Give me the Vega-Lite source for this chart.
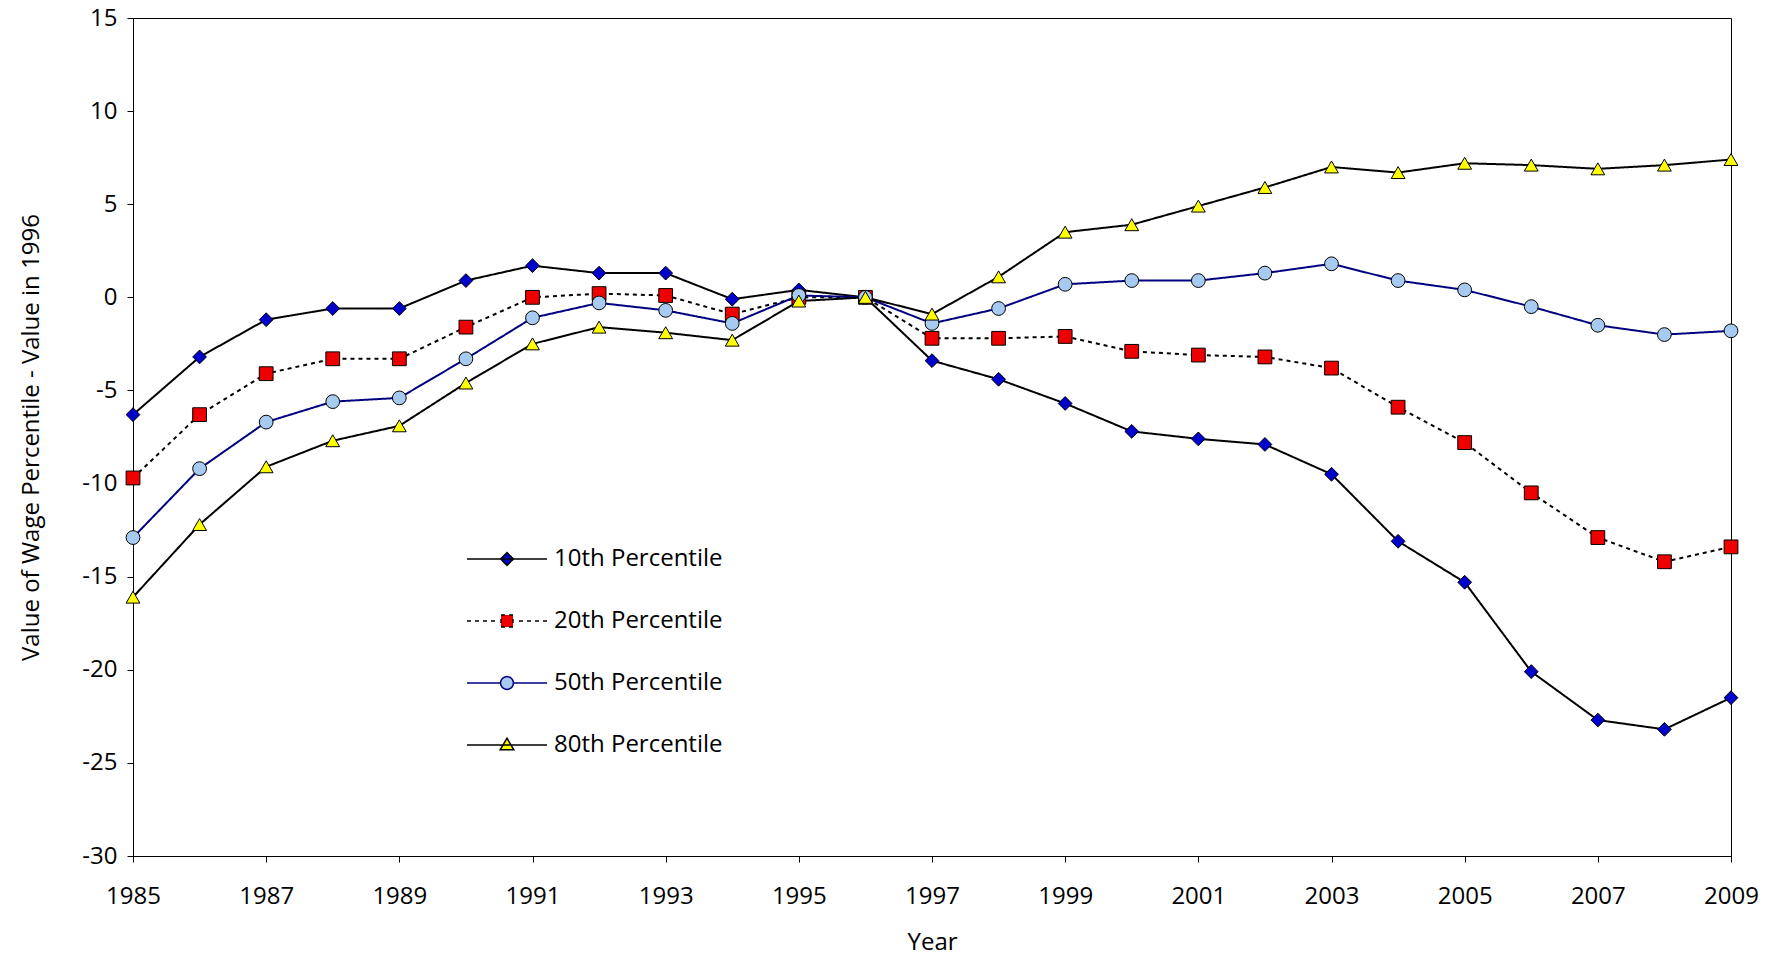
{
  "$schema": "https://vega.github.io/schema/vega-lite/v6.json",
  "width": 1598,
  "height": 838,
  "autosize": {"type": "none"},
  "padding": {"left": 133, "top": 18, "right": 49, "bottom": 111},
  "background": "white",
  "config": {
    "font": "Open Sans",
    "view": {"stroke": "black", "strokeWidth": 1},
    "axis": {"labelFont": "Open Sans", "titleFont": "Open Sans", "labelFontSize": 24, "titleFontSize": 24, "titleFontWeight": "normal", "labelColor": "black", "titleColor": "black", "domainColor": "black", "tickColor": "black", "grid": false, "labelFlush": false, "labelOverlap": false},
    "legend": {
      "orient": "none", "legendX": 353, "legendY": 520, "title": null,
      "labelFontSize": 24, "labelColor": "black", "labelFont": "Open Sans", "labelLimit": 0,
      "symbolSize": 1600, "symbolStrokeWidth": 1.5, "rowPadding": 29, "labelOffset": 26
    },
    "point": {"filled": true, "stroke": "black", "strokeWidth": 1, "opacity": 1, "size": 190}
  },
  "data": {
    "values": [
      {"year":1985,"p":"10th Percentile","v":-6.3},{"year":1986,"p":"10th Percentile","v":-3.2},{"year":1987,"p":"10th Percentile","v":-1.2},{"year":1988,"p":"10th Percentile","v":-0.6},{"year":1989,"p":"10th Percentile","v":-0.6},{"year":1990,"p":"10th Percentile","v":0.9},{"year":1991,"p":"10th Percentile","v":1.7},{"year":1992,"p":"10th Percentile","v":1.3},{"year":1993,"p":"10th Percentile","v":1.3},{"year":1994,"p":"10th Percentile","v":-0.1},{"year":1995,"p":"10th Percentile","v":0.4},{"year":1996,"p":"10th Percentile","v":0},{"year":1997,"p":"10th Percentile","v":-3.4},{"year":1998,"p":"10th Percentile","v":-4.4},{"year":1999,"p":"10th Percentile","v":-5.7},{"year":2000,"p":"10th Percentile","v":-7.2},{"year":2001,"p":"10th Percentile","v":-7.6},{"year":2002,"p":"10th Percentile","v":-7.9},{"year":2003,"p":"10th Percentile","v":-9.5},{"year":2004,"p":"10th Percentile","v":-13.1},{"year":2005,"p":"10th Percentile","v":-15.3},{"year":2006,"p":"10th Percentile","v":-20.1},{"year":2007,"p":"10th Percentile","v":-22.7},{"year":2008,"p":"10th Percentile","v":-23.2},{"year":2009,"p":"10th Percentile","v":-21.5},
      {"year":1985,"p":"20th Percentile","v":-9.7},{"year":1986,"p":"20th Percentile","v":-6.3},{"year":1987,"p":"20th Percentile","v":-4.1},{"year":1988,"p":"20th Percentile","v":-3.3},{"year":1989,"p":"20th Percentile","v":-3.3},{"year":1990,"p":"20th Percentile","v":-1.6},{"year":1991,"p":"20th Percentile","v":0},{"year":1992,"p":"20th Percentile","v":0.2},{"year":1993,"p":"20th Percentile","v":0.1},{"year":1994,"p":"20th Percentile","v":-0.9},{"year":1995,"p":"20th Percentile","v":0},{"year":1996,"p":"20th Percentile","v":0},{"year":1997,"p":"20th Percentile","v":-2.2},{"year":1998,"p":"20th Percentile","v":-2.2},{"year":1999,"p":"20th Percentile","v":-2.1},{"year":2000,"p":"20th Percentile","v":-2.9},{"year":2001,"p":"20th Percentile","v":-3.1},{"year":2002,"p":"20th Percentile","v":-3.2},{"year":2003,"p":"20th Percentile","v":-3.8},{"year":2004,"p":"20th Percentile","v":-5.9},{"year":2005,"p":"20th Percentile","v":-7.8},{"year":2006,"p":"20th Percentile","v":-10.5},{"year":2007,"p":"20th Percentile","v":-12.9},{"year":2008,"p":"20th Percentile","v":-14.2},{"year":2009,"p":"20th Percentile","v":-13.4},
      {"year":1985,"p":"50th Percentile","v":-12.9},{"year":1986,"p":"50th Percentile","v":-9.2},{"year":1987,"p":"50th Percentile","v":-6.7},{"year":1988,"p":"50th Percentile","v":-5.6},{"year":1989,"p":"50th Percentile","v":-5.4},{"year":1990,"p":"50th Percentile","v":-3.3},{"year":1991,"p":"50th Percentile","v":-1.1},{"year":1992,"p":"50th Percentile","v":-0.3},{"year":1993,"p":"50th Percentile","v":-0.7},{"year":1994,"p":"50th Percentile","v":-1.4},{"year":1995,"p":"50th Percentile","v":0.1},{"year":1996,"p":"50th Percentile","v":0},{"year":1997,"p":"50th Percentile","v":-1.4},{"year":1998,"p":"50th Percentile","v":-0.6},{"year":1999,"p":"50th Percentile","v":0.7},{"year":2000,"p":"50th Percentile","v":0.9},{"year":2001,"p":"50th Percentile","v":0.9},{"year":2002,"p":"50th Percentile","v":1.3},{"year":2003,"p":"50th Percentile","v":1.8},{"year":2004,"p":"50th Percentile","v":0.9},{"year":2005,"p":"50th Percentile","v":0.4},{"year":2006,"p":"50th Percentile","v":-0.5},{"year":2007,"p":"50th Percentile","v":-1.5},{"year":2008,"p":"50th Percentile","v":-2.0},{"year":2009,"p":"50th Percentile","v":-1.8},
      {"year":1985,"p":"80th Percentile","v":-16.1},{"year":1986,"p":"80th Percentile","v":-12.2},{"year":1987,"p":"80th Percentile","v":-9.1},{"year":1988,"p":"80th Percentile","v":-7.7},{"year":1989,"p":"80th Percentile","v":-6.9},{"year":1990,"p":"80th Percentile","v":-4.6},{"year":1991,"p":"80th Percentile","v":-2.5},{"year":1992,"p":"80th Percentile","v":-1.6},{"year":1993,"p":"80th Percentile","v":-1.9},{"year":1994,"p":"80th Percentile","v":-2.3},{"year":1995,"p":"80th Percentile","v":-0.2},{"year":1996,"p":"80th Percentile","v":0},{"year":1997,"p":"80th Percentile","v":-0.9},{"year":1998,"p":"80th Percentile","v":1.1},{"year":1999,"p":"80th Percentile","v":3.5},{"year":2000,"p":"80th Percentile","v":3.9},{"year":2001,"p":"80th Percentile","v":4.9},{"year":2002,"p":"80th Percentile","v":5.9},{"year":2003,"p":"80th Percentile","v":7.0},{"year":2004,"p":"80th Percentile","v":6.7},{"year":2005,"p":"80th Percentile","v":7.2},{"year":2006,"p":"80th Percentile","v":7.1},{"year":2007,"p":"80th Percentile","v":6.9},{"year":2008,"p":"80th Percentile","v":7.1},{"year":2009,"p":"80th Percentile","v":7.4}
    ]
  },
  "encoding": {
    "x": {"field": "year", "type": "quantitative", "title": "Year", "scale": {"domain": [1985, 2009], "nice": false, "zero": false},
      "axis": {"values": [1985,1987,1989,1991,1993,1995,1997,1999,2001,2003,2005,2007,2009], "format": "d", "labelPadding": 22, "titlePadding": 22, "tickSize": 6}},
    "y": {"field": "v", "type": "quantitative", "title": "Value of Wage Percentile - Value in 1996", "scale": {"domain": [-30, 15], "nice": false},
      "axis": {"values": [-30,-25,-20,-15,-10,-5,0,5,10,15], "labelExpr": "replace(datum.label, '\u2212', '-')", "labelPadding": 10, "titlePadding": 38, "tickSize": 6}}
  },
  "layer": [
    {
      "mark": {"type": "line", "strokeWidth": 2},
      "encoding": {
        "color": {"field": "p", "type": "nominal", "scale": {"domain": ["10th Percentile","20th Percentile","50th Percentile","80th Percentile"], "range": ["black","black","#000080","black"]},
          "legend": {"symbolType": "M-2,0H2", "encode": {"symbols": {"update": {
                "shape": {"signal": "datum.value == '10th Percentile' ? 'M-2,0H2M0,-0.32L0.32,0L0,0.32L-0.32,0Z' : datum.value == '20th Percentile' ? 'M-2,0H-1.8M-1.6,0H-1.4M-1.2,0H-1M-0.8,0H-0.6M0.6,0H0.8M1,0H1.2M1.4,0H1.6M1.8,0H2M-0.3,-0.3H0.3V0.3H-0.3Z' : datum.value == '50th Percentile' ? 'M-2,0H-0.32M0.32,0H2M-0.32,0A0.32,0.32 0 1,0 0.32,0A0.32,0.32 0 1,0 -0.32,0Z' : 'M-2,0H2M0,-0.34L0.34,0.24L-0.34,0.24Z'"},
                "fill": {"signal": "datum.value == '10th Percentile' ? '#0000cc' : datum.value == '20th Percentile' ? '#ee0000' : datum.value == '50th Percentile' ? '#a6caf0' : '#ffff00'"},
                "fillOpacity": {"value": 1},
                "stroke": {"signal": "datum.value == '50th Percentile' ? '#000080' : 'black'"},
                "strokeDash": {"value": []},
                "strokeWidth": {"value": 1.5},
                "opacity": {"value": 1}
          }}}}},
        "strokeDash": {"field": "p", "type": "nominal", "scale": {"domain": ["10th Percentile","20th Percentile","50th Percentile","80th Percentile"], "range": [[1,0],[4,4],[1,0],[1,0]]}}
      }
    },
    {"transform": [{"filter": "datum.p == '10th Percentile'"}], "mark": {"type": "point", "shape": "diamond", "fill": "#0000cc"}},
    {"transform": [{"filter": "datum.p == '20th Percentile'"}], "mark": {"type": "point", "shape": "square", "fill": "#ee0000"}},
    {"transform": [{"filter": "datum.p == '50th Percentile'"}], "mark": {"type": "point", "shape": "circle", "fill": "#a6caf0"}},
    {"transform": [{"filter": "datum.p == '80th Percentile'"}], "mark": {"type": "point", "shape": "triangle-up", "fill": "#ffff00"}}
  ]
}
